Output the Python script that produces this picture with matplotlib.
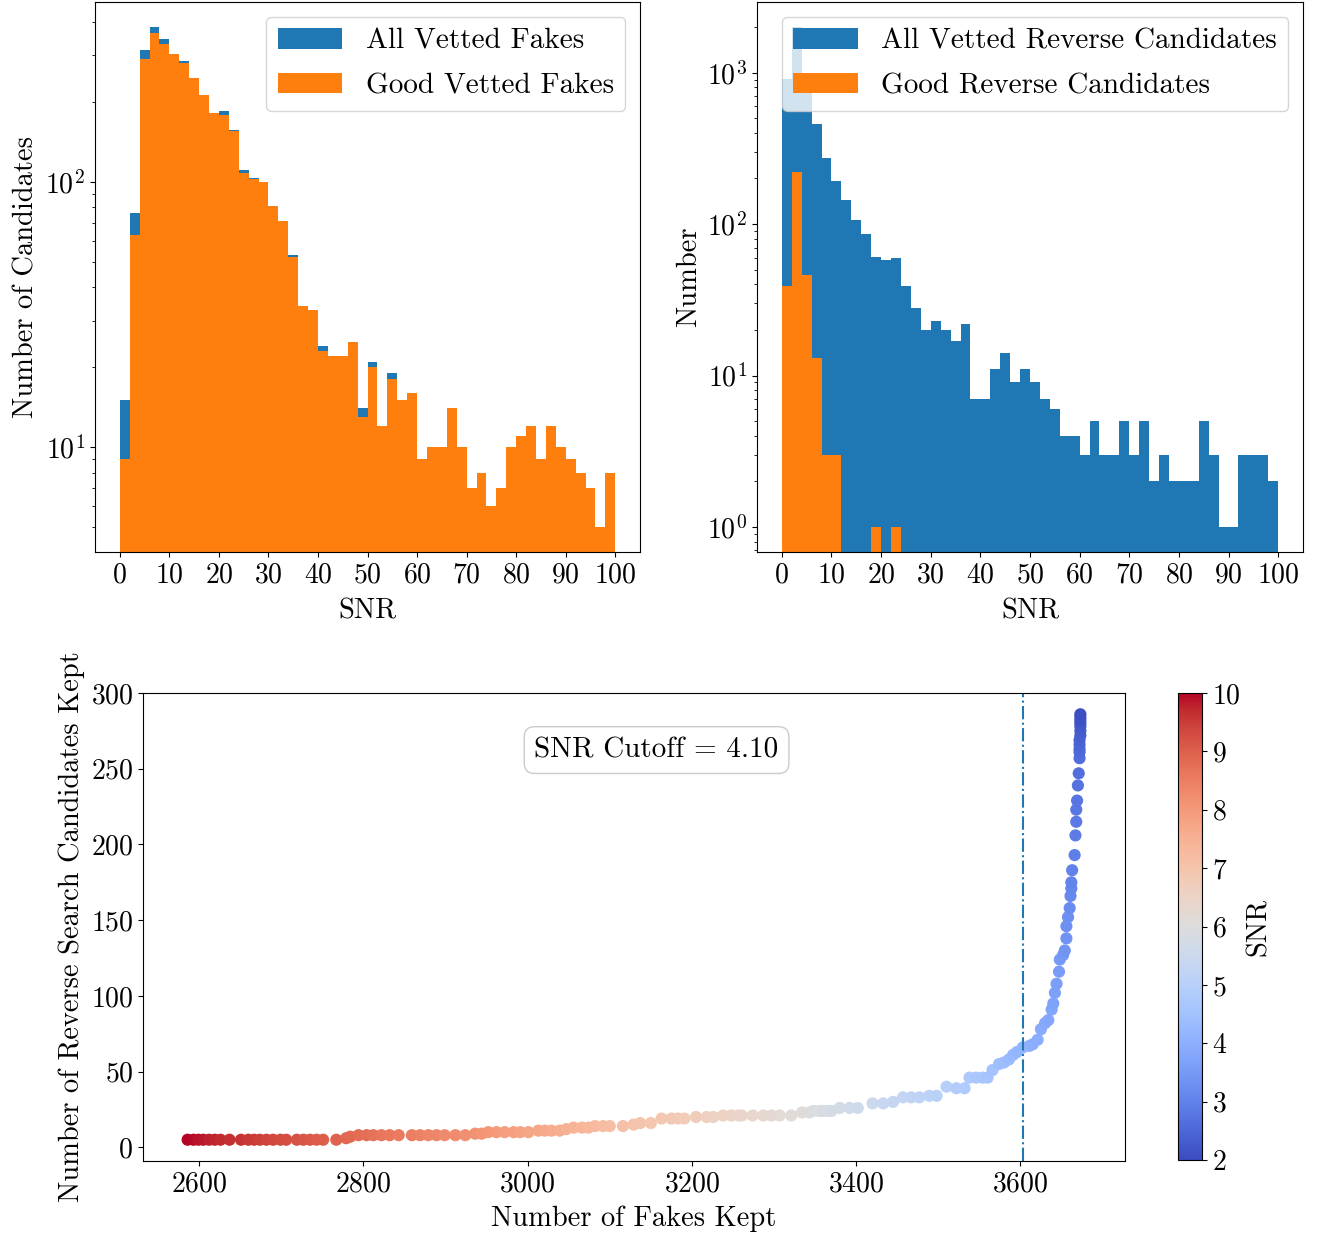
import matplotlib
matplotlib.use("Agg")
import matplotlib.pyplot as plt
import numpy as np

plt.rcParams['font.family'] = 'serif'
plt.rcParams['font.serif'] = ['cmr10', 'DejaVu Serif']
plt.rcParams['mathtext.fontset'] = 'cm'
plt.rcParams['axes.formatter.use_mathtext'] = True
plt.rcParams['font.size'] = 20
plt.rcParams['axes.labelsize'] = 20.5
plt.rcParams['legend.fontsize'] = 21
plt.rcParams['legend.handlelength'] = 2.2
plt.rcParams['legend.labelspacing'] = 0.62

# histogram bins (SNR 0-100, width 2)
bin_edges = np.arange(0, 102, 2)

fakes_all = [15, 76, 314, 383, 346, 304, 286, 247, 213, 182,
             184, 157, 111, 103, 100, 81, 71, 53, 34, 33,
             24, 22, 22, 25, 14, 21, 12, 19, 15, 16,
             9, 10, 10, 14, 10, 7, 8, 6, 7, 10,
             11, 12, 9, 12, 10, 9, 8, 7, 5, 8]
fakes_good = [9, 63, 291, 365, 331, 302, 281, 245, 213, 182,
              179, 156, 108, 102, 100, 81, 71, 52, 34, 33,
              23, 22, 22, 25, 13, 20, 12, 18, 15, 16,
              9, 10, 10, 14, 10, 7, 8, 6, 7, 10,
              11, 12, 9, 12, 10, 9, 8, 7, 5, 8]

rev_all = [910, 2000, 910, 460, 274, 191, 145, 107, 86, 61,
           58, 60, 39, 28, 20, 23, 20, 17, 22, 7,
           7, 11, 14, 9, 11, 9, 7, 6, 4, 4,
           3, 5, 3, 3, 5, 3, 5, 2, 3, 2,
           2, 2, 5, 3, 1, 1, 3, 3, 3, 2]
rev_good = [39, 222, 46, 13, 3, 3, 0, 0, 0, 1,
            0, 1, 0, 0, 0, 0, 0, 0, 0, 0,
            0, 0, 0, 0, 0, 0, 0, 0, 0, 0,
            0, 0, 0, 0, 0, 0, 0, 0, 0, 0,
            0, 0, 0, 0, 0, 0, 0, 0, 0, 0]

# cutoff sweep: fakes kept, reverse candidates kept, SNR cutoff
fakes_kept = [2586, 2593, 2599, 2605, 2612, 2619, 2626, 2637, 2651, 2660,
              2667, 2674, 2682, 2690, 2699, 2706, 2719, 2727, 2735, 2743,
              2751, 2767, 2779, 2784,
              2794, 2804, 2812, 2822, 2832, 2843, 2859, 2869, 2879, 2889,
              2899, 2912, 2924,
              2936, 2944, 2952, 2962, 2972, 2983, 2991, 3001, 3013, 3021,
              3029, 3039, 3047, 3056, 3066, 3074, 3082, 3092, 3100, 3116,
              3129, 3137, 3150,
              3163, 3175, 3183, 3191, 3205, 3218, 3226, 3238, 3248, 3257,
              3261, 3274, 3287, 3297, 3307, 3321, 3334, 3343, 3348, 3355,
              3360, 3366, 3370,
              3380, 3392, 3402, 3420, 3433, 3445, 3457, 3467, 3477, 3489,
              3498, 3510, 3522, 3532, 3538, 3546, 3554, 3560, 3566, 3574,
              3580, 3586, 3591, 3596, 3603,
              3611, 3615, 3621, 3625, 3630, 3634, 3638, 3640, 3642, 3644,
              3647, 3648, 3652, 3654, 3656, 3656, 3658, 3660, 3661, 3662,
              3662, 3663, 3666, 3667, 3668, 3668, 3669, 3670, 3671, 3672,
              3672, 3672, 3672, 3672, 3673, 3673, 3673, 3673, 3673, 3673,
              3673]
rev_kept = [5, 5, 5, 5, 5, 5, 5, 5, 5, 5,
            5, 5, 5, 5, 5, 5, 5, 5, 5, 5,
            5, 5, 6, 7,
            8, 8, 8, 8, 8, 8, 8, 8, 8, 8,
            8, 8, 8,
            9, 9, 10, 10, 10, 10, 10, 10, 11, 11,
            11, 11, 12, 13, 13, 13, 14, 14, 14, 14,
            15, 16, 16,
            19, 19, 19, 19, 20, 20, 20, 21, 21, 21,
            21, 21, 21, 21, 21, 21, 23, 23, 24, 24,
            24, 24, 24,
            26, 26, 26, 29, 29, 30, 33, 33, 33, 34,
            34, 40, 39, 39, 46, 46, 46, 46, 51, 55,
            56, 58, 61, 63, 66,
            67, 68, 71, 78, 82, 84, 91, 95, 102, 108,
            116, 124, 127, 130, 138, 146, 152, 158, 166, 171,
            175, 183, 193, 206, 215, 223, 229, 239, 247, 257,
            261, 263, 266, 269, 272, 275, 278, 280, 282, 284,
            286]
snr_cut = [10.00, 9.95, 9.90, 9.85, 9.80, 9.75, 9.70, 9.65, 9.60, 9.55,
           9.50, 9.45, 9.40, 9.35, 9.30, 9.25, 9.20, 9.15, 9.10, 9.05,
           9.00, 8.95, 8.90, 8.85,
           8.80, 8.75, 8.70, 8.65, 8.60, 8.55, 8.50, 8.45, 8.40, 8.35,
           8.30, 8.25, 8.20,
           8.15, 8.10, 8.04, 7.99, 7.93, 7.88, 7.82, 7.77, 7.71, 7.66,
           7.60, 7.55, 7.49, 7.44, 7.38, 7.33, 7.27, 7.22, 7.16, 7.11,
           7.05, 7.00, 6.95,
           6.90, 6.85, 6.80, 6.74, 6.69, 6.64, 6.59, 6.54, 6.48, 6.43,
           6.38, 6.33, 6.28, 6.22, 6.17, 6.12, 6.07, 6.02, 5.96, 5.91,
           5.86, 5.81, 5.76,
           5.70, 5.63, 5.57, 5.50, 5.43, 5.37, 5.30, 5.23, 5.17, 5.10,
           5.03, 4.97, 4.90, 4.83, 4.77, 4.70, 4.63, 4.57, 4.50, 4.43,
           4.37, 4.30, 4.23, 4.17, 4.10,
           4.05, 4.00, 3.95, 3.90, 3.85, 3.80, 3.75, 3.70, 3.65, 3.60,
           3.55, 3.50, 3.45, 3.40, 3.35, 3.30, 3.25, 3.20, 3.15, 3.10,
           3.05, 3.00, 2.95, 2.90, 2.85, 2.80, 2.75, 2.70, 2.65, 2.60,
           2.55, 2.50, 2.45, 2.40, 2.35, 2.30, 2.25, 2.20, 2.15, 2.10,
           2.05]
cutoff = 4.10
cutoff_fakes = 3603

W, H = 1317, 1239
fig = plt.figure(figsize=(W/100, H/100), dpi=100)
ax1 = fig.add_axes([95/W, 1-552/H, 545/W, 550/H])
ax2 = fig.add_axes([757/W, 1-552/H, 546/W, 550/H])
ax3 = fig.add_axes([143/W, 1-1161/H, 982/W, 468/H])
cax = fig.add_axes([1178/W, 1-1160/H, 24/W, 467/H])

centers = 0.5*(bin_edges[1:] + bin_edges[:-1])

ax1.hist(centers, bins=bin_edges, weights=fakes_all, log=True, color='C0', label='All Vetted Fakes')
ax1.hist(centers, bins=bin_edges, weights=fakes_good, log=True, color='C1', label='Good Vetted Fakes')
ax1.set_xticks(np.arange(0, 101, 10))
ax1.set_xlabel('SNR', labelpad=7)
ax1.set_ylabel('Number of Candidates')
ax1.legend(loc='upper right')

ax2.hist(centers, bins=bin_edges, weights=rev_all, log=True, color='C0', label='All Vetted Reverse Candidates')
ax2.hist(centers, bins=bin_edges, weights=rev_good, log=True, color='C1', label='Good Reverse Candidates')
ax2.set_xticks(np.arange(0, 101, 10))
ax2.set_xlabel('SNR', labelpad=7)
ax2.set_ylabel('Number')
ax2.legend(loc='upper right')

sc = ax3.scatter(fakes_kept, rev_kept, c=snr_cut, cmap='coolwarm', vmin=2, vmax=10, s=60)
ax3.axvline(cutoff_fakes, color='C0', linestyle='-.', lw=1.5)
ax3.text(0.523, 0.878, 'SNR Cutoff = %.2f' % cutoff, transform=ax3.transAxes, ha='center', va='center',
         fontsize=21, bbox=dict(boxstyle='round,pad=0.35', facecolor='white', edgecolor='0.8'))
ax3.set_xlabel('Number of Fakes Kept', labelpad=6)
ax3.set_ylabel('Number of Reverse Search Candidates Kept')
cb = fig.colorbar(sc, cax=cax)
cb.set_label('SNR')

fig.savefig('out.png', dpi=100)
